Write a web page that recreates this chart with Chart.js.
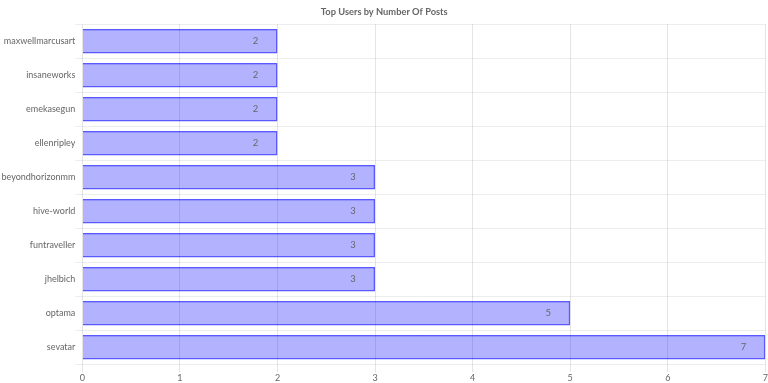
<!DOCTYPE html>
<html><head><meta charset="utf-8">
<script src="https://cdn.jsdelivr.net/npm/chart.js@4/dist/chart.umd.min.js"></script>
<style>html,body{margin:0;padding:0;background:#fff}#wrap{width:768px;height:383px}</style>
</head><body><div id="wrap"><canvas id="c"></canvas></div>
<script>
const users = ["maxwellmarcusart","insaneworks","emekasegun","ellenripley","beyondhorizonmm","hive-world","funtraveller","jhelbich","optama","sevatar"];
const posts = [2,2,2,2,3,3,3,3,5,7];
const xTicks = [0,1,2,3,4,5,6,7];

const labelPlugin = {
  id: 'valueLabels',
  afterDatasetsDraw(chart) {
    const ctx = chart.ctx;
    const meta = chart.getDatasetMeta(0);
    ctx.save();
    ctx.font = '9.5px Lato, sans-serif';
    ctx.fillStyle = '#666';
    ctx.textAlign = 'center';
    ctx.textBaseline = 'middle';
    meta.data.forEach((bar, i) => {
      ctx.fillText(String(posts[i]), bar.x - 22, bar.y);
    });
    ctx.restore();
  }
};

Chart.defaults.font.family = 'Lato, sans-serif';
Chart.defaults.color = '#666';
new Chart(document.getElementById('c'), {
  type: 'bar',
  data: {
    labels: users,
    datasets: [{
      data: posts,
      backgroundColor: 'rgba(0,0,255,0.3)',
      borderColor: 'rgba(0,0,255,0.65)',
      borderWidth: 1.5
    }]
  },
  options: {
    indexAxis: 'y',
    responsive: true,
    maintainAspectRatio: false,
    animation: false,
    layout: { padding: { left: 1.5, right: 1, top: 0, bottom: 0 } },
    plugins: {
      legend: { display: false },
      tooltip: { enabled: false },
      title: { display: true, text: 'Top Users by Number Of Posts', color: '#666', font: { size: 9.3, weight: 'bold' }, padding: { top: 6, bottom: 7 } }
    },
    scales: {
      x: {
        min: 0, max: 7,
        afterBuildTicks(axis) { axis.ticks = xTicks.map(v => ({ value: v })); },
        ticks: { font: { size: 9 }, color: '#666', padding: 0 },
        grid: { color: 'rgba(0,0,0,0.1)', tickLength: 8 },
        border: { display: false }
      },
      y: {
        ticks: { font: { size: 9 }, color: '#666', padding: 0 },
        grid: { color: 'rgba(0,0,0,0.07)', offset: true, tickLength: 7 },
        border: { display: false }
      }
    }
  },
  plugins: [labelPlugin]
});
</script></body></html>
